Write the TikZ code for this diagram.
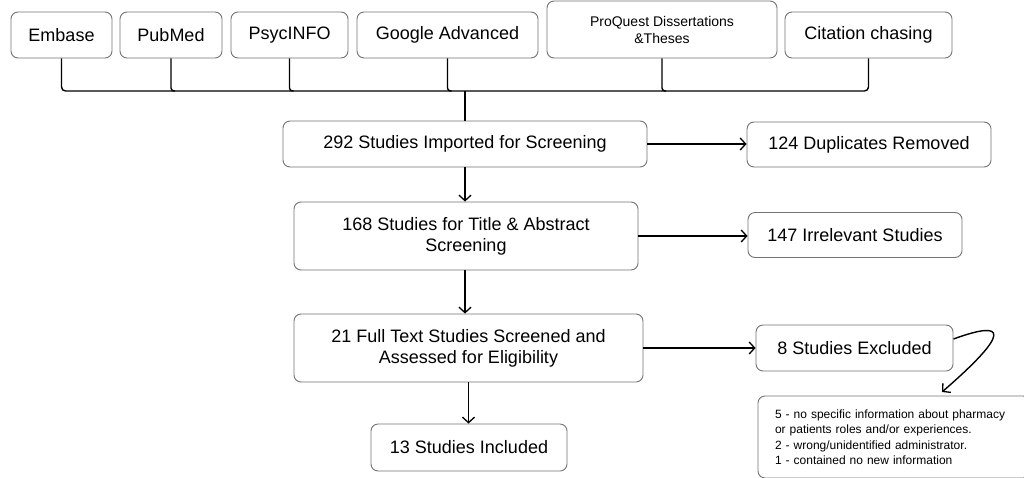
\documentclass[tikz,border=0pt]{standalone}
\usepackage{fontspec}
\setmainfont{Liberation Sans}
\usetikzlibrary{arrows.meta}
\begin{document}
\begin{tikzpicture}[x=1pt,y=-1pt,
  box/.style={draw=black!55, line width=0.9pt, rounded corners=7pt, fill=white,
    inner sep=0pt, align=center, font=\fontsize{18}{21}\selectfont},
  conn/.style={draw=black, line width=1.4pt},
  arr/.style={conn, -{Straight Barb[length=5.5pt,width=12pt,line width=1.3pt]}}]
\path[use as bounding box] (0,0) rectangle (1024,477);
% sources
\node[box, minimum width=101pt, minimum height=46pt] (embase) at (61.5,35) {Embase};
\node[box, minimum width=102pt, minimum height=46pt] (pubmed) at (171,35) {PubMed};
\node[box, minimum width=117pt, minimum height=46pt] (psyc) at (289.5,35) {PsycINFO};
\node[box, minimum width=181pt, minimum height=46pt] (google) at (447.5,35) {Google Advanced};
\node[box, minimum width=230pt, minimum height=57pt, font=\fontsize{14}{17}\selectfont] (proquest) at (662,29.5) {ProQuest Dissertations\\\&Theses};
\node[box, minimum width=167pt, minimum height=46pt] (cite) at (868.5,35) {Citation chasing};
% flow
\node[box, minimum width=364pt, minimum height=46pt] (imported) at (465,144) {292 Studies Imported for Screening};
\node[box, minimum width=244pt, minimum height=45pt] (dup) at (869,144.5) {124 Duplicates Removed};
\node[box, minimum width=344pt, minimum height=68pt] (title) at (466,236) {168 Studies for Title \& Abstract\\Screening};
\node[box, minimum width=214pt, minimum height=45pt] (irr) at (855,235) {147 Irrelevant Studies};
\node[box, minimum width=349pt, minimum height=68pt] (full) at (468.5,348) {21 Full Text Studies Screened and\\Assessed for Eligibility};
\node[box, minimum width=197pt, minimum height=46pt] (excl) at (854.5,348) {8 Studies Excluded};
\node[box, minimum width=196pt, minimum height=47pt] (incl) at (469,447.5) {13 Studies Included};
\node[box, minimum width=272pt, minimum height=82pt, text width=238pt, align=left,
  font=\fontsize{12}{15.5}\selectfont] (note) at (894,437)
  {5 - no specific information about pharmacy\\or patients roles and/or experiences.\\2 - wrong/unidentified administrator.\\1 - contained no new information};
% bus
\coordinate (hub) at (465,91);
\draw[conn, rounded corners=4pt] (embase.south) |- (hub) -| (cite.south);
\foreach \n in {pubmed,psyc,google,proquest}
  \draw[conn, rounded corners=3pt] (\n.south) |- ([xshift=4pt]\n.south |- hub);
\draw[conn] (hub) -- (imported.north);
% arrows
\draw[arr] (imported.south) -- (imported.south |- title.north);
\draw[arr] (title.south -| imported.south) -- (imported.south |- full.north);
\draw[arr] (full.south) -- (full.south |- incl.north);
\draw[arr] (imported.east) -- (imported.east -| dup.west);
\draw[arr] (title.east) -- (title.east -| irr.west);
\draw[arr] (full.east) -- (full.east -| excl.west);
\coordinate (cstart) at ([yshift=9pt]excl.east);
\coordinate (ctip) at (942,392);
\draw[arr] (cstart) .. controls (992,325) and (1025,320) .. (ctip);
\end{tikzpicture}
\end{document}
